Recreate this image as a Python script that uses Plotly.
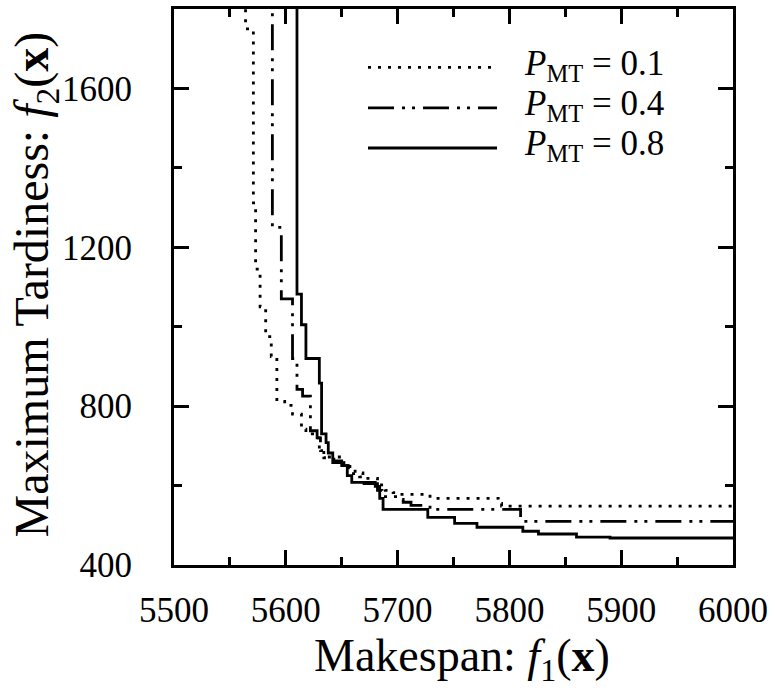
import plotly.graph_objects as go

# Pareto fronts (staircase corner points)
f1_p01 = [5564, 5564, 5571, 5573, 5577, 5582, 5587, 5592, 5599, 5606, 5614, 5618, 5624,
          5630, 5634, 5648, 5655, 5662, 5669, 5682, 5689, 5696, 5702, 5729, 5790, 5793, 6000]
f2_p01 = [1900, 1750, 1312, 1145, 1050, 975, 925, 812, 802, 780, 742, 730, 720,
          688, 672, 657, 648, 632, 618, 602, 588, 582, 578, 568, 555, 548, 548]

f1_p04 = [5588, 5588, 5596, 5606, 5610, 5615, 5622, 5628, 5631, 5634, 5643, 5650,
          5656, 5666, 5670, 5682, 5686, 5702, 5705, 5712, 5729, 5810, 6000]
f2_p04 = [1900, 1250, 1070, 920, 842, 825, 738, 720, 688, 670, 662, 650,
          630, 622, 605, 588, 572, 565, 558, 550, 540, 510, 510]

f1_p08 = [5610, 5610, 5614, 5618, 5630, 5632, 5636, 5638, 5642, 5652, 5655, 5659,
          5680, 5684, 5687, 5727, 5751, 5771, 5812, 5826, 5860, 5890, 6000]
f2_p08 = [1900, 1082, 1005, 920, 858, 730, 708, 682, 658, 650, 625, 608,
          598, 568, 540, 520, 505, 495, 485, 478, 470, 468, 468]

x_ticks = [5500, 5600, 5700, 5800, 5900, 6000]
y_ticks = [400, 800, 1200, 1600]

series_labels = ["<i>P</i><sub>MT</sub> = 0.1", "<i>P</i><sub>MT</sub> = 0.4", "<i>P</i><sub>MT</sub> = 0.8"]
dashes = ["3px,7px", "26px,8px,3px,7px,3px,8px", "solid"]

FONT = "Liberation Serif"

fig = go.Figure()
for xs, ys, dash, name in [(f1_p01, f2_p01, dashes[0], series_labels[0]),
                           (f1_p04, f2_p04, dashes[1], series_labels[1]),
                           (f1_p08, f2_p08, dashes[2], series_labels[2])]:
    fig.add_trace(go.Scatter(x=xs, y=ys, mode="lines", name=name,
                             line=dict(color="black", width=2.8, dash=dash, shape="hv"),
                             showlegend=False))

# manual legend
leg_y = [0.895, 0.822, 0.75]
for yy, dash, lab in zip(leg_y, dashes, series_labels):
    fig.add_shape(type="line", xref="paper", yref="paper",
                  x0=(368 - 174) / 559, x1=(497 - 174) / 559, y0=yy, y1=yy,
                  line=dict(color="black", width=2.8, dash=dash))
    fig.add_annotation(xref="paper", yref="paper", x=(522 - 174) / 559, y=yy + 0.004,
                       xanchor="left", yanchor="middle", showarrow=False,
                       text=lab, font=dict(family=FONT, size=35, color="black"))

# axis titles
fig.add_annotation(xref="paper", yref="paper", x=(462 - 174) / 559, y=(565 - 660) / 559,
                   xanchor="center", yanchor="middle", showarrow=False,
                   text="Makespan: <i>f</i><sub>1</sub>(<b>x</b>)",
                   font=dict(family=FONT, size=46, color="black"))
fig.add_annotation(xref="paper", yref="paper", x=(35 - 174) / 559, y=(565 - 283) / 559,
                   xanchor="center", yanchor="middle", showarrow=False, textangle=-90,
                   text="Maximum Tardiness: <i>f</i><sub>2</sub>(<b>x</b>)",
                   font=dict(family=FONT, size=48, color="black"))

axis_common = dict(showgrid=False, zeroline=False, showline=True, linecolor="black",
                   linewidth=3, mirror="ticks", ticks="inside", tickcolor="black",
                   tickwidth=2.5, ticklen=15,
                   tickfont=dict(family=FONT, size=35, color="black"))

fig.update_xaxes(range=[5500, 6000], tickvals=x_ticks, ticktext=[str(v) for v in x_ticks],
                 minor=dict(dtick=50, tick0=5500, ticks="inside", ticklen=8, tickwidth=2.5,
                            tickcolor="black", showgrid=False),
                 ticklabelstandoff=12, **axis_common)
fig.update_yaxes(range=[400, 1800], tickvals=y_ticks, ticktext=[str(v) for v in y_ticks],
                 minor=dict(dtick=200, tick0=400, ticks="inside", ticklen=8, tickwidth=2.5,
                            tickcolor="black", showgrid=False),
                 ticklabelstandoff=32, **axis_common)

fig.update_layout(width=775, height=690, plot_bgcolor="white", paper_bgcolor="white",
                  margin=dict(l=174, r=42, t=6, b=125), showlegend=False)

fig.write_html("out.html")
